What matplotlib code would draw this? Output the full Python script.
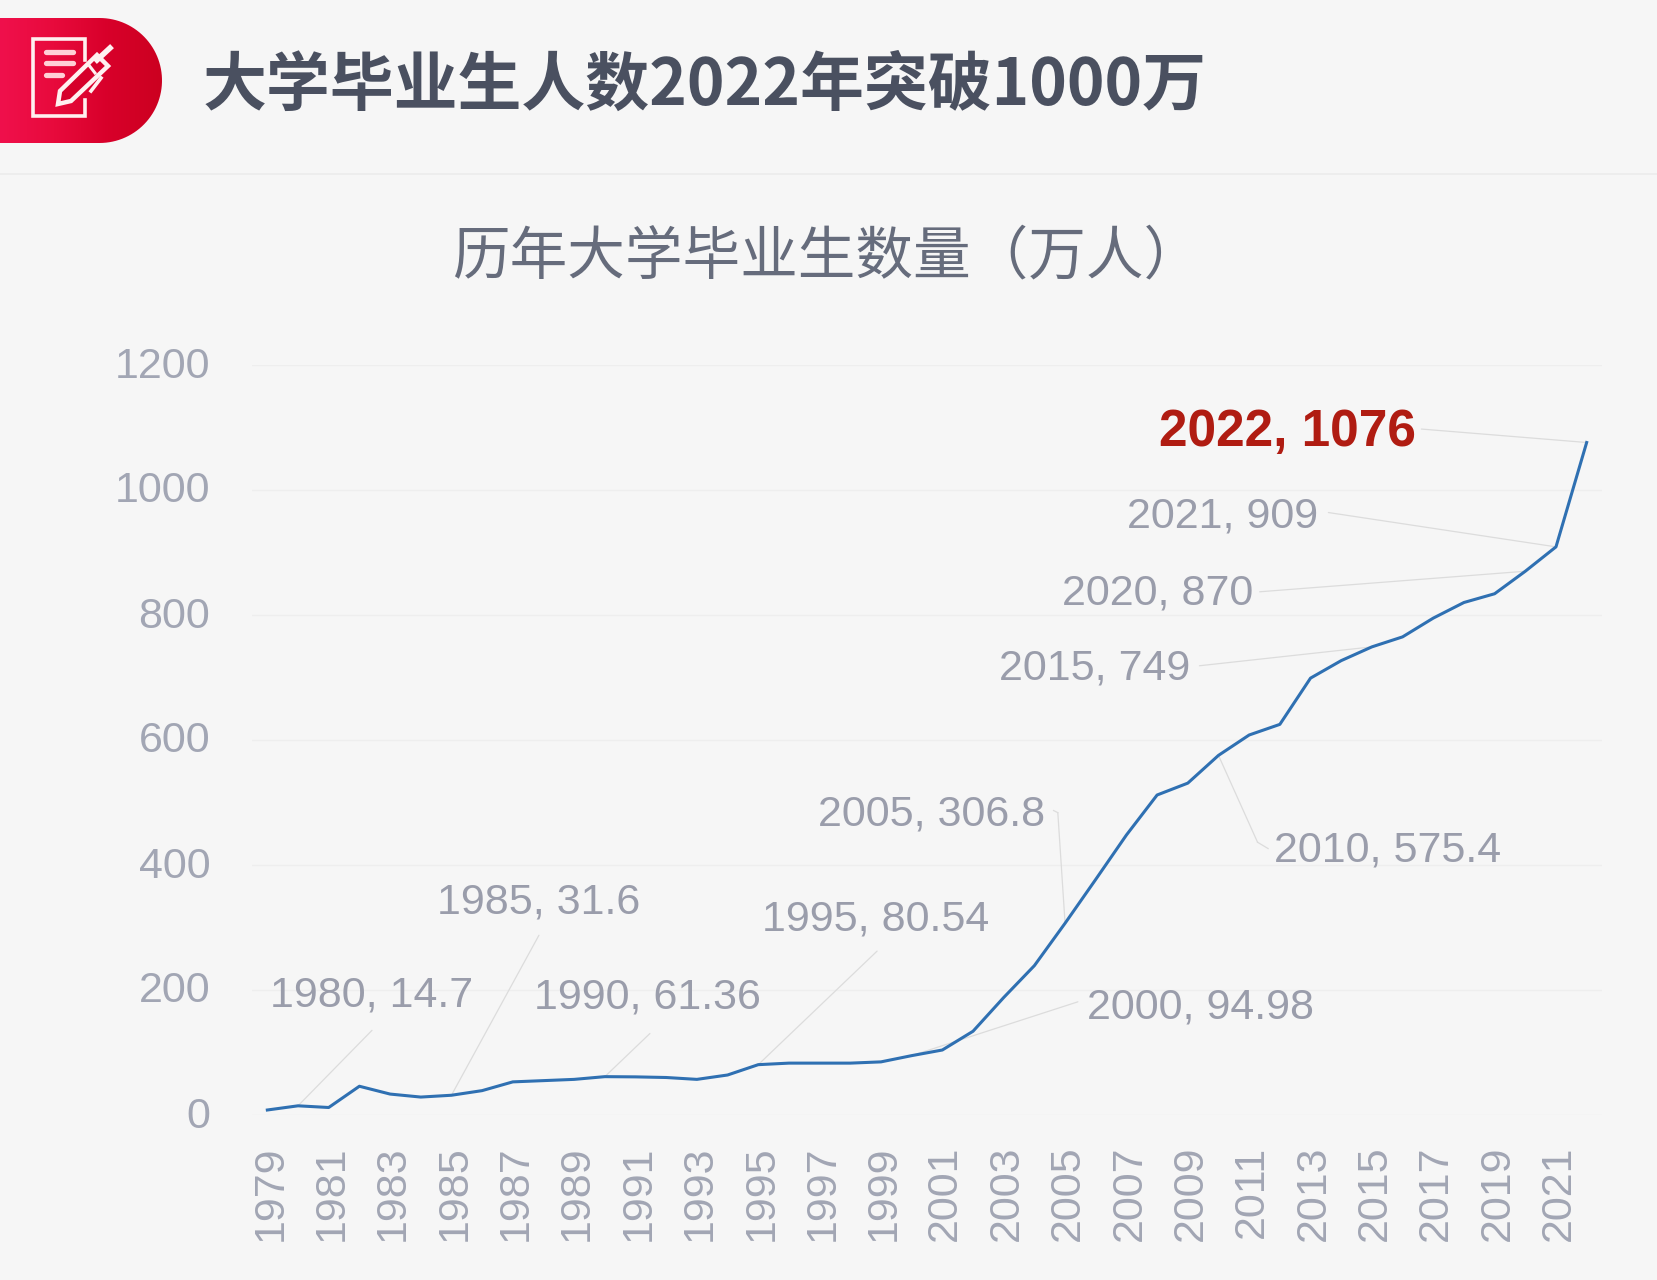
import numpy as np
import matplotlib
matplotlib.use("Agg")
import matplotlib.pyplot as plt
from matplotlib.patches import Polygon, PathPatch
from matplotlib.path import Path
from matplotlib.colors import LinearSegmentedColormap
from matplotlib.transforms import ScaledTranslation

years = list(range(1979, 2023))
graduates = [8, 14.7, 12, 46, 33.5, 28.7, 31.6, 39, 53, 55, 57, 61.36, 61, 60, 57, 64,
             80.54, 83, 83, 83, 85, 94.98, 104, 134, 188, 239, 306.8, 377, 448, 512, 531,
             575.4, 608, 625, 699, 727, 749, 765, 795, 820, 834, 870, 909, 1076]
y_ticks = [0, 200, 400, 600, 800, 1000, 1200]
x_ticks = list(range(1979, 2022, 2))
main_title = "大学毕业生人数2022年突破1000万"
chart_title = "历年大学毕业生数量（万人）"
labelled_years = [1980, 1985, 1990, 1995, 2000, 2005, 2010, 2015, 2020, 2021, 2022]
labelled_text = ["1980, 14.7", "1985, 31.6", "1990, 61.36", "1995, 80.54", "2000, 94.98",
                 "2005, 306.8", "2010, 575.4", "2015, 749", "2020, 870", "2021, 909", "2022, 1076"]

W, H = 1657, 1280
S = 1657 / 1568
BG = "#f6f6f6"
CJK = ["Noto Sans CJK SC", "DejaVu Sans"]
CJK_TC = ["Noto Sans CJK TC", "DejaVu Sans"]
LAT = ["Liberation Sans", "DejaVu Sans"]
GREY = "#a2a6b4"
LABEL = "#9a9dab"
LEADER = "#dcdcdc"

fig = plt.figure(figsize=(W / 100, H / 100), dpi=100, facecolor=BG)
ov = fig.add_axes([0, 0, 1, 1], zorder=0)
ov.set_xlim(0, W); ov.set_ylim(H, 0); ov.axis("off")

# header pill
cmap = LinearSegmentedColormap.from_list("r", ["#f0104c", "#e80a3c", "#d8002a", "#cc0020"])
img = ov.imshow(np.linspace(0, 1, 256).reshape(1, -1), extent=(0, 162, 143, 18), cmap=cmap,
                aspect="auto", zorder=1)
th = np.linspace(-np.pi / 2, np.pi / 2, 60)
pts = np.column_stack([99.5 + 62.5 * np.cos(th), 80.5 + 62.5 * np.sin(th)])
pts = np.vstack([[-5, 18], pts, [-5, 143]])
pill = Polygon(pts, closed=True, fc="none", ec="none", transform=ov.transData)
ov.add_patch(pill)
img.set_clip_path(pill)
ov.set_xlim(0, W); ov.set_ylim(H, 0)

# icon
ov.plot([85, 85, 33, 33, 85, 85], [60, 39, 39, 116, 116, 100], color="#fff0f0", lw=2.6, zorder=3,
        solid_joinstyle="miter")
for yy, xe in zip([52, 63, 75], [73, 73, 62]):
    ov.plot([46, xe], [yy, yy], color="#ffd0d6", lw=3.8, zorder=3, solid_capstyle="round")
pen = Path([(58, 104), (60, 91), (97, 55), (108, 66), (71, 101), (58, 104)], closed=True)
ov.add_patch(PathPatch(pen, fc="#d6002a", ec="#fff0f0", lw=3.2, zorder=4))
ov.plot([97, 110], [60, 48], color="#fff0f0", lw=4, zorder=4)
ov.plot([91, 101], [91, 78], color="#fff0f0", lw=2.6, zorder=4)
ov.plot([88, 95], [64, 73], color="#fff0f0", lw=2.2, zorder=5)

ov.text(203, 86, main_title, family=CJK, fontweight="bold", fontsize=46, color="#4a5060",
        ha="left", va="center", zorder=3)
ov.plot([0, W], [174, 174], color="#ececec", lw=1.2, zorder=1)
ov.text(782 * S, 243 * S, chart_title, family=CJK_TC, fontsize=41.5, color="#666c7c",
        ha="center", va="center", zorder=3)

# chart
L, R, T, B = 252, 1602, 365, 1115
ax = fig.add_axes([L / W, 1 - B / H, (R - L) / W, (B - T) / H], zorder=1)
ax.patch.set_alpha(0)
ax.set_xlim(1978.5, 2022.5)
ax.set_ylim(0, 1200)
ax.plot(years, graduates, color="#2f70b2", lw=2.2, zorder=4, solid_joinstyle="round", clip_on=False)
ax.set_yticks(y_ticks)
ax.set_xticks(x_ticks)
ax.set_yticklabels([str(v) for v in y_ticks], family=LAT, fontsize=31, color=GREY)
ax.set_xticklabels([str(v) for v in x_ticks], family=LAT, fontsize=31, color=GREY, rotation=90)
ax.tick_params(axis="both", length=0)
ax.tick_params(axis="x", pad=22)
ax.tick_params(axis="y", pad=30)
ax.grid(axis="y", color="#eeeeee", lw=1)
ax.set_axisbelow(True)
for s in ax.spines.values():
    s.set_visible(False)
for t in ax.get_yticklabels():
    t.set_transform(t.get_transform() + ScaledTranslation(0, 3 / 100, fig.dpi_scale_trans))
for t in ax.get_xticklabels():
    t.set_transform(t.get_transform() + ScaledTranslation(3 / 100, 0, fig.dpi_scale_trans))

# overlay on top for data labels so gridlines pass behind them
top = fig.add_axes([0, 0, 1, 1], zorder=2)
top.set_xlim(0, W); top.set_ylim(H, 0); top.axis("off"); top.patch.set_alpha(0)

# label layout, in shrunk-reference pixels: centre x, centre y, leader start x, y
layout = [(352, 942, 352, 975), (510, 854, 510, 885), (613, 944, 615, 978), (829, 870, 830, 900),
          (1136, 953, 1020, 948), (882, 771, 1001, 769), (1313, 805, 1190, 797),
          (1036, 633, 1135, 630), (1095, 562, 1192, 560), (1157, 489, 1257, 485), (1218, 409, 1345, 406)]
for yr, txt, (cx, cy, lx, ly) in zip(labelled_years, labelled_text, layout):
    hi = yr == 2022
    top.text(cx * S, cy * S, txt, family=LAT, fontsize=37 if hi else 31,
             fontweight="bold" if hi else "normal", color="#b01c12" if hi else LABEL,
             ha="center", va="center", zorder=3)
    val = graduates[years.index(yr)]
    ax.annotate("", xy=(yr, val), xycoords="data", xytext=(lx * S, H - ly * S), textcoords="figure pixels",
                arrowprops=dict(arrowstyle="-", color=LEADER, lw=0.9, shrinkA=0, shrinkB=0), zorder=2)
ov.plot([997 * S, 1001 * S], [767 * S, 769 * S], color=LEADER, lw=0.9, zorder=2)
ov.plot([1190 * S, 1200 * S], [797 * S, 803 * S], color=LEADER, lw=0.9, zorder=2)

fig.savefig("out.png", dpi=100, facecolor=BG)
